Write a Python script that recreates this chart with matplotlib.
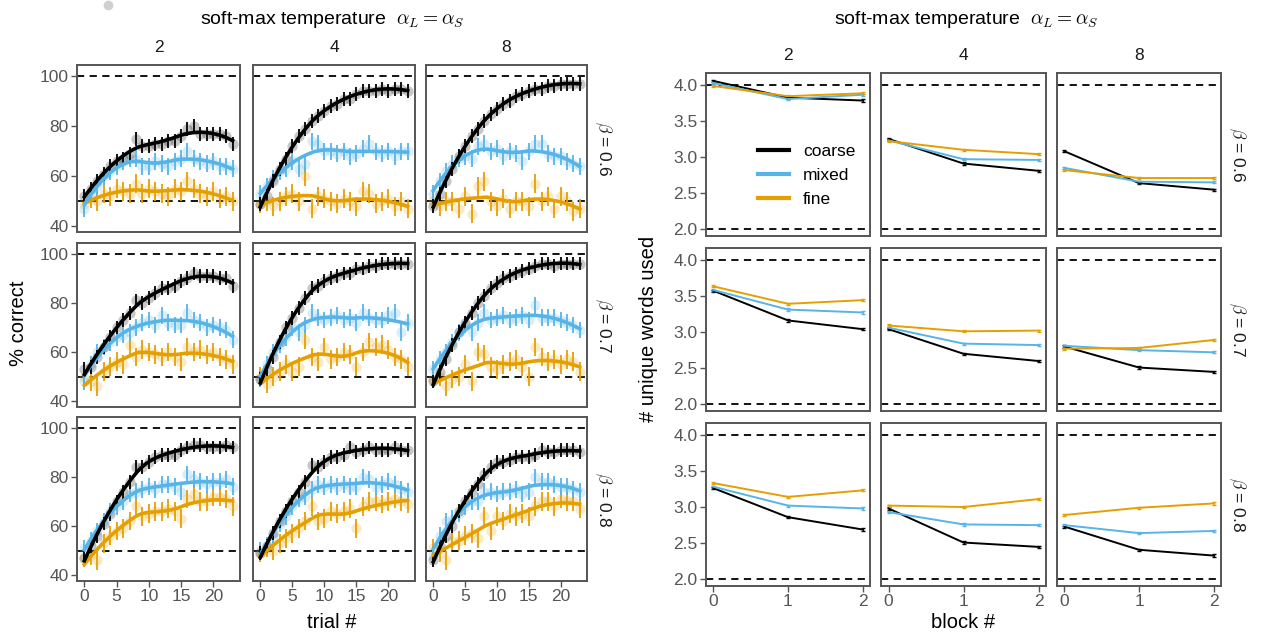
import numpy as np
import matplotlib
matplotlib.use("Agg")
import matplotlib.pyplot as plt
from matplotlib.lines import Line2D

plt.rcParams['font.family'] = ['Liberation Sans', 'DejaVu Sans']
plt.rcParams['mathtext.fontset'] = 'cm'

W, H = 1261, 639

ALPHAS = ["2", "4", "8"]
BETAS = ["0.6", "0.7", "0.8"]
CONDS = ["coarse", "mixed", "fine"]
COLORS = {"coarse": "black", "mixed": "#56B4E9", "fine": "#E69F00"}
TRIALS = np.arange(24)
BLOCKS = [0, 1, 2]

# % correct per trial, rows = beta, cols = alpha
coarse_b06_a2 = [52, 55, 58, 61, 64, 66, 67, 69, 75, 72, 72, 73, 73, 74, 74, 76, 79, 80, 77, 77, 77, 77, 76, 73]
mixed_b06_a2 = [47, 53, 56, 60, 62, 64, 66, 67, 67, 64, 64, 66, 65, 64, 66, 67, 70, 67, 66, 65, 66, 64, 64, 63]
fine_b06_a2 = [49, 51, 50, 53, 52, 55, 54, 53, 57, 53, 55, 54, 53, 52, 55, 54, 58, 55, 53, 52, 54, 51, 52, 50]
coarse_b06_a4 = [49, 52, 58, 63, 67, 72, 76, 79, 82, 84, 86, 88, 89, 91, 91, 93, 94, 94, 94, 95, 94, 95, 95, 94]
mixed_b06_a4 = [53, 56, 59, 62, 63, 66, 63, 65, 74, 73, 70, 70, 69, 70, 68, 69, 71, 73, 70, 69, 70, 68, 70, 70]
fine_b06_a4 = [49, 50, 48, 50, 52, 53, 50, 60, 47, 52, 51, 50, 49, 51, 50, 48, 54, 53, 49, 50, 51, 48, 50, 47]
coarse_b06_a8 = [48, 53, 58, 63, 68, 72, 76, 79, 82, 85, 87, 89, 90, 92, 93, 94, 95, 95, 96, 96, 97, 97, 97, 97]
mixed_b06_a8 = [53, 58, 62, 65, 67, 68, 67, 72, 73, 70, 71, 68, 70, 69, 66, 70, 73, 73, 69, 68, 68, 66, 65, 64]
fine_b06_a8 = [50, 48, 50, 50, 47, 52, 45, 56, 58, 50, 48, 51, 47, 50, 50, 48, 57, 50, 52, 47, 52, 50, 46, 47]

coarse_b07_a2 = [53, 54, 58, 62, 66, 70, 73, 76, 81, 80, 82, 84, 86, 86, 87, 89, 90, 92, 91, 91, 91, 90, 90, 87]
mixed_b07_a2 = [48, 55, 60, 62, 64, 66, 67, 68, 70, 72, 73, 71, 75, 72, 71, 71, 76, 73, 72, 70, 71, 70, 69, 65]
fine_b07_a2 = [50, 48, 46, 52, 54, 56, 55, 63, 58, 61, 60, 59, 58, 60, 58, 56, 62, 60, 61, 59, 60, 58, 57, 55]
coarse_b07_a4 = [49, 53, 58, 64, 70, 74, 78, 82, 86, 87, 89, 90, 91, 92, 92, 94, 94, 95, 95, 96, 96, 96, 96, 96]
mixed_b07_a4 = [49, 55, 60, 63, 66, 70, 68, 71, 76, 74, 73, 74, 75, 73, 74, 72, 76, 74, 73, 73, 75, 76, 68, 72]
fine_b07_a4 = [50, 47, 50, 52, 55, 52, 54, 65, 58, 56, 62, 57, 58, 60, 59, 54, 60, 64, 62, 63, 61, 58, 57, 54]
coarse_b07_a8 = [48, 52, 57, 63, 68, 72, 76, 80, 83, 86, 88, 90, 91, 92, 93, 94, 95, 96, 96, 95, 96, 96, 96, 96]
mixed_b07_a8 = [53, 57, 60, 64, 68, 71, 68, 72, 76, 73, 74, 75, 73, 74, 75, 73, 79, 74, 74, 74, 73, 72, 71, 69]
fine_b07_a8 = [49, 50, 46, 49, 50, 55, 48, 60, 59, 54, 53, 55, 56, 57, 54, 50, 62, 58, 56, 57, 55, 57, 56, 52]

coarse_b08_a2 = [47, 52, 56, 61, 65, 70, 74, 78, 84, 84, 86, 88, 89, 89, 89, 91, 92, 93, 93, 92, 92, 92, 93, 92]
mixed_b08_a2 = [51, 54, 58, 62, 66, 68, 70, 73, 74, 75, 76, 75, 77, 77, 76, 74, 81, 79, 78, 77, 78, 78, 79, 76]
fine_b08_a2 = [47, 48, 46, 53, 56, 58, 59, 62, 68, 64, 65, 66, 66, 67, 66, 63, 71, 73, 70, 70, 72, 72, 71, 68]
coarse_b08_a4 = [49, 52, 57, 62, 66, 70, 74, 78, 85, 84, 86, 88, 88, 89, 92, 90, 91, 92, 91, 91, 91, 92, 91, 91]
mixed_b08_a4 = [50, 52, 56, 61, 64, 68, 71, 72, 75, 77, 76, 77, 76, 77, 76, 76, 80, 79, 76, 77, 78, 77, 75, 74]
fine_b08_a4 = [49, 51, 50, 53, 55, 57, 59, 62, 68, 62, 63, 66, 65, 66, 67, 59, 68, 70, 70, 69, 70, 71, 70, 69]
coarse_b08_a8 = [46, 52, 56, 60, 66, 70, 74, 77, 81, 84, 86, 86, 87, 88, 88, 88, 89, 91, 90, 90, 91, 91, 91, 90]
mixed_b08_a8 = [48, 56, 62, 63, 65, 68, 70, 70, 74, 74, 73, 74, 74, 75, 73, 74, 80, 78, 78, 77, 76, 76, 75, 74]
fine_b08_a8 = [51, 49, 46, 54, 54, 56, 57, 55, 64, 58, 64, 62, 65, 64, 65, 64, 68, 70, 70, 68, 71, 70, 70, 67]

# half-width of the trial error bars (percentage points)
acc_err = {"coarse": 2.8, "mixed": 3.4, "fine": 3.8}

# unique words used per block; inner lists = alpha 2, 4, 8
words_coarse_b06 = [[4.05, 3.82, 3.78], [3.25, 2.91, 2.81], [3.08, 2.64, 2.55]]
words_mixed_b06 = [[4.02, 3.80, 3.86], [3.23, 2.97, 2.96], [2.85, 2.66, 2.65]]
words_fine_b06 = [[3.98, 3.84, 3.88], [3.22, 3.10, 3.04], [2.82, 2.71, 2.71]]
words_coarse_b07 = [[3.57, 3.16, 3.04], [3.04, 2.70, 2.60], [2.80, 2.51, 2.45]]
words_mixed_b07 = [[3.58, 3.31, 3.27], [3.06, 2.84, 2.82], [2.81, 2.75, 2.72]]
words_fine_b07 = [[3.63, 3.39, 3.44], [3.09, 3.01, 3.02], [2.77, 2.78, 2.89]]
words_coarse_b08 = [[3.26, 2.86, 2.69], [2.98, 2.51, 2.45], [2.73, 2.41, 2.33]]
words_mixed_b08 = [[3.28, 3.02, 2.98], [2.93, 2.76, 2.75], [2.75, 2.64, 2.67]]
words_fine_b08 = [[3.33, 3.14, 3.23], [3.02, 3.00, 3.11], [2.89, 2.99, 3.05]]
words_err = 0.015

acc = {
    ("0.6", "2"): {"coarse": coarse_b06_a2, "mixed": mixed_b06_a2, "fine": fine_b06_a2},
    ("0.6", "4"): {"coarse": coarse_b06_a4, "mixed": mixed_b06_a4, "fine": fine_b06_a4},
    ("0.6", "8"): {"coarse": coarse_b06_a8, "mixed": mixed_b06_a8, "fine": fine_b06_a8},
    ("0.7", "2"): {"coarse": coarse_b07_a2, "mixed": mixed_b07_a2, "fine": fine_b07_a2},
    ("0.7", "4"): {"coarse": coarse_b07_a4, "mixed": mixed_b07_a4, "fine": fine_b07_a4},
    ("0.7", "8"): {"coarse": coarse_b07_a8, "mixed": mixed_b07_a8, "fine": fine_b07_a8},
    ("0.8", "2"): {"coarse": coarse_b08_a2, "mixed": mixed_b08_a2, "fine": fine_b08_a2},
    ("0.8", "4"): {"coarse": coarse_b08_a4, "mixed": mixed_b08_a4, "fine": fine_b08_a4},
    ("0.8", "8"): {"coarse": coarse_b08_a8, "mixed": mixed_b08_a8, "fine": fine_b08_a8},
}
words = {
    "0.6": {"coarse": words_coarse_b06, "mixed": words_mixed_b06, "fine": words_fine_b06},
    "0.7": {"coarse": words_coarse_b07, "mixed": words_mixed_b07, "fine": words_fine_b07},
    "0.8": {"coarse": words_coarse_b08, "mixed": words_mixed_b08, "fine": words_fine_b08},
}


def loess(x, y, xs, span=0.75):
    # local quadratic fit with tricube weights (like geom_smooth)
    x = np.asarray(x, float)
    y = np.asarray(y, float)
    k = int(np.ceil(span * len(x)))
    out = []
    for x0 in xs:
        d = np.abs(x - x0)
        h = np.sort(d)[k - 1] * 1.0001
        w = np.clip(1 - (d / h) ** 3, 0, None) ** 3
        A = np.vstack([np.ones_like(x), x - x0, (x - x0) ** 2]).T
        sw = np.sqrt(w)
        coef = np.linalg.lstsq(A * sw[:, None], y * sw, rcond=None)[0]
        out.append(coef[0])
    return np.array(out)


fig = plt.figure(figsize=(W / 100, H / 100), dpi=100)


def px_axes(x0, y0, x1, y1):
    return fig.add_axes([x0 / W, 1 - y1 / H, (x1 - x0) / W, (y1 - y0) / H])


def style(ax, left, bottom):
    for s in ax.spines.values():
        s.set_color("#555555")
        s.set_linewidth(1.4)
    ax.tick_params(colors="#555555", labelcolor="#555555", labelsize=12.5,
                   length=4, width=1.0, direction="out", pad=2)
    if not left:
        ax.tick_params(axis="y", left=False, labelleft=False)
    if not bottom:
        ax.tick_params(axis="x", bottom=False, labelbottom=False)


left_cols = [(77, 240), (253, 415), (426, 587)]
left_rows = [(65, 232), (243, 407), (417, 581)]
right_cols = [(706, 870), (881, 1046), (1057, 1221)]
right_rows = [(73, 236), (248, 411), (423, 586)]
xs = np.linspace(0, 23, 120)

for r, beta in enumerate(BETAS):
    for c, alpha in enumerate(ALPHAS):
        ax = px_axes(left_cols[c][0], left_rows[r][0], left_cols[c][1], left_rows[r][1])
        for y in (50, 100):
            ax.axhline(y, color="black", ls=(0, (4, 3)), lw=1.3, zorder=1)
        for cond in ["fine", "mixed", "coarse"]:
            vals = np.array(acc[(beta, alpha)][cond], float)
            col = COLORS[cond]
            ax.scatter(TRIALS, vals, s=55, color=col, alpha=0.22, lw=0, zorder=2)
            ax.vlines(TRIALS, vals - acc_err[cond], vals + acc_err[cond],
                      color=col, lw=1.3, zorder=3)
            ax.plot(xs, loess(TRIALS, vals, xs), color=col, lw=2.6, zorder=4)
        ax.set_xlim(-1.15, 24.15)
        ax.set_ylim(37.6, 104.4)
        ax.set_yticks([40, 60, 80, 100])
        ax.set_xticks([0, 5, 10, 15, 20])
        style(ax, c == 0, r == 2)
        if r == 0:
            ax.text(0.5, 1.06, alpha, transform=ax.transAxes, ha="center",
                    va="bottom", fontsize=12.5, color="#1a1a1a")
        if c == 2:
            ax.text(1.1, 0.5, r"$\beta$ = " + beta, transform=ax.transAxes,
                    rotation=270, ha="center", va="center", fontsize=12.5,
                    color="#1a1a1a")

        ax = px_axes(right_cols[c][0], right_rows[r][0], right_cols[c][1], right_rows[r][1])
        for y in (2, 4):
            ax.axhline(y, color="black", ls=(0, (4, 3)), lw=1.3, zorder=1)
        for cond in ["coarse", "mixed", "fine"]:
            vals = words[beta][cond][c]
            ax.errorbar(BLOCKS, vals, yerr=words_err, color=COLORS[cond], lw=1.4,
                        capsize=1.5, elinewidth=1.0, zorder=3)
        ax.set_xlim(-0.1, 2.1)
        ax.set_ylim(1.91, 4.16)
        ax.set_yticks([2.0, 2.5, 3.0, 3.5, 4.0])
        ax.set_yticklabels(["2.0", "2.5", "3.0", "3.5", "4.0"])
        ax.set_xticks(BLOCKS)
        style(ax, c == 0, r == 2)
        if r == 0:
            ax.text(0.5, 1.06, alpha, transform=ax.transAxes, ha="center",
                    va="bottom", fontsize=12.5, color="#1a1a1a")
        if c == 2:
            ax.text(1.1, 0.5, r"$\beta$ = " + beta, transform=ax.transAxes,
                    rotation=270, ha="center", va="center", fontsize=12.5,
                    color="#1a1a1a")
        if r == 0 and c == 0:
            handles = [Line2D([], [], color=COLORS[k], lw=3) for k in CONDS]
            ax.legend(handles, CONDS, loc="upper left", bbox_to_anchor=(0.22, 0.66),
                      frameon=False, fontsize=12.5, handlelength=1.8,
                      labelspacing=0.5, handletextpad=0.8)

title = r"soft-max temperature  $\alpha_L = \alpha_S$"
fig.text(332 / W, 1 - 20 / H, title, ha="center", va="center", fontsize=14)
fig.text(966 / W, 1 - 20 / H, title, ha="center", va="center", fontsize=14)
fig.text(332 / W, 1 - 623 / H, "trial #", ha="center", va="center", fontsize=14.5)
fig.text(963 / W, 1 - 623 / H, "block #", ha="center", va="center", fontsize=14.5)
fig.text(18 / W, 1 - 323 / H, "% correct", ha="center", va="center",
         rotation=90, fontsize=14.5)
fig.text(649 / W, 1 - 329 / H, "# unique words used", ha="center", va="center",
         rotation=90, fontsize=14.5)
fig.add_artist(Line2D([108 / W], [1 - 5 / H], marker="o", ms=6, color="#d0d0d0",
                      transform=fig.transFigure))

fig.savefig("out.png", dpi=100)
